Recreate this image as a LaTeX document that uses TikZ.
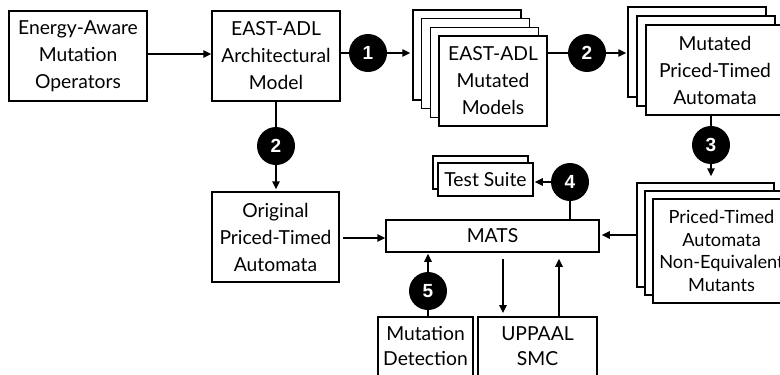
\documentclass[tikz,border=0pt]{standalone}
\usepackage{fontspec}
\setmainfont{Lato}
\newfontfamily\badgefont{Liberation Sans}
\usetikzlibrary{arrows.meta}
\begin{document}
\begin{tikzpicture}[x=1pt,y=-1pt,
  box/.style={draw, line width=1.5pt, fill=white, inner sep=0pt, align=center,
    font=\fontsize{19.3}{27}\selectfont},
  smallbox/.style={box, font=\fontsize{18.2}{22.5}\selectfont},
  txt/.style={inner sep=0pt, align=center, font=\fontsize{19.3}{25}\selectfont},
  badge/.style={circle, fill=black, inner sep=0pt, minimum size=38pt, text=white,
    font=\badgefont\bfseries\fontsize{19}{19}\selectfont},
  conn/.style={line width=1.5pt},
  arr/.style={conn, -{Triangle[length=8pt,width=7.5pt]}},
]
\clip (0,0) rectangle (780,375);
\fill[white] (0,0) rectangle (780,375);

% top row
\node[box, minimum width=138pt, minimum height=90pt] (ops) at (78,56) {Energy-Aware\\Mutation\\Operators};
\node[box, minimum width=128pt, minimum height=90pt] (arch) at (276,56) {EAST-ADL\\Architectural\\Model};

% stack of EAST-ADL mutated models
\node[box, minimum width=108pt, minimum height=90pt] (s1a) at (467,55) {};
\node[box, minimum width=108pt, minimum height=90pt] (s1b) at (475.7,63.7) {};
\node[box, minimum width=108pt, minimum height=90pt] (s1c) at (484.3,72.3) {};
\node[box, minimum width=108pt, minimum height=90pt] (s1d) at (493,81) {EAST-ADL\\Mutated\\Models};

% stack of mutated PTA
\node[box, minimum width=138pt, minimum height=90pt] (s2a) at (697,52) {};
\node[box, minimum width=138pt, minimum height=90pt] (s2b) at (706,61) {};
\node[box, minimum width=138pt, minimum height=90pt] (s2c) at (715,70) {Mutated\\Priced-Timed\\Automata};

% stack of non-equivalent mutants
\node[smallbox, minimum width=137pt, minimum height=104pt] (s3a) at (705.5,235) {};
\node[smallbox, minimum width=137pt, minimum height=104pt] (s3b) at (713.5,243) {};
\node[smallbox, minimum width=137pt, minimum height=104pt] (s3c) at (721.5,251) {Priced-Timed\\Automata\\Non-Equivalent\\Mutants};

% middle
\node[box, minimum width=127pt, minimum height=90pt] (orig) at (275.5,237) {Original\\Priced-Timed\\Automata};
\node[box, minimum width=213pt, minimum height=32pt] (mats) at (492.5,236) {MATS};
\node[box, minimum width=95pt, minimum height=33pt] (ts1) at (480.5,172.5) {};
\node[box, minimum width=95pt, minimum height=33pt] (ts2) at (485.5,179.5) {Test Suite};

% bottom
\node[box, minimum width=95pt, minimum height=80pt, anchor=north] (md) at (425.5,316) {};
\node[txt, anchor=north] (mdt) at (425.5,326) {Mutation\\Detection};
\node[box, minimum width=119pt, minimum height=80pt, anchor=north] (up) at (537.5,316) {};
\node[txt, anchor=north] (upt) at (537.5,326) {UPPAAL\\SMC};

% badges
\node[badge] (b1) at (368,53) {1};
\node[badge] (b2) at (587,53) {2};
\node[badge] (b2l) at (276,146) {2};
\node[badge] (b3) at (711,145) {3};
\node[badge] (b4) at (570,182) {4};
\node[badge] (b5) at (428,291) {5};

\coordinate (dnx) at (503,0);
\coordinate (upx) at (559,0);

% connectors
\draw[arr] (ops.east |- 0,54) -- (arch.west |- 0,54);
\draw[conn] (b1 -| arch.east) -- (b1);
\draw[arr, shorten >=2pt] (b1) -- (b1 -| s1a.west);
\draw[conn] (b2 -| s1d.east) -- (b2);
\draw[arr, shorten >=1pt] (b2) -- (b2 -| s2a.west);
\draw[conn] (b2l |- arch.south) -- (b2l);
\draw[arr, shorten >=2pt] (b2l) -- (b2l |- orig.north);
\draw[conn] (b3 |- s2c.south) -- (b3);
\draw[arr, shorten >=6pt] (b3) -- (b3 |- s3a.north);
\draw[arr, shorten <=3pt] (orig.east |- 0,238) -- (mats.west |- 0,238);
\draw[arr, shorten >=2pt] (s3a.west) -- (mats.east |- s3a.west);
\draw[conn] (b4 |- mats.north) -- (b4);
\draw[arr, shorten >=1pt] (b4) -- (b4 -| ts2.east);
\draw[conn] (b5 |- md.north) -- (b5);
\draw[arr, shorten >=1pt] (b5) -- (b5 |- mats.south);
\draw[arr, shorten <=6pt, shorten >=3pt] (mats.south -| dnx) -- (up.north -| dnx);
\draw[arr, shorten >=6pt] (up.north -| upx) -- (mats.south -| upx);
\end{tikzpicture}
\end{document}
